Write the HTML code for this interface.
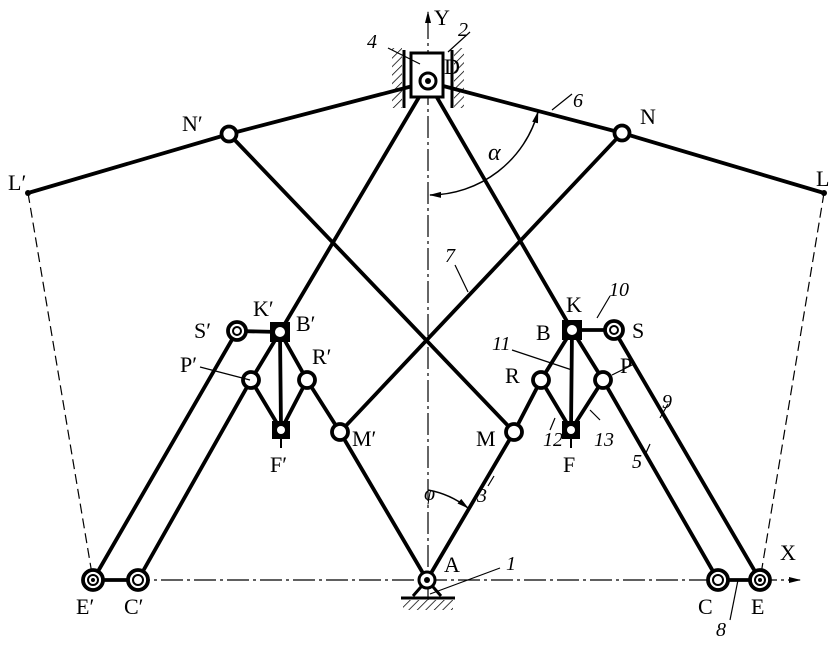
<!DOCTYPE html>
<html><head><meta charset="utf-8"><style>
html,body{margin:0;padding:0;background:#fff}
svg{display:block}
text{font-family:"Liberation Serif",serif;font-size:22px;fill:#000}
.i{font-style:italic;font-size:20px}
</style></head><body>
<svg width="840" height="650" viewBox="0 0 840 650" xmlns="http://www.w3.org/2000/svg">
<defs>
<marker id="ar" markerWidth="12" markerHeight="8" refX="11" refY="4" orient="auto-start-reverse" markerUnits="userSpaceOnUse"><path d="M0,1 L12,4 L0,7 Z" fill="#000"/></marker>
<pattern id="h" width="6" height="6" patternUnits="userSpaceOnUse" patternTransform="rotate(45)"><line x1="0" y1="0" x2="0" y2="6" stroke="#000" stroke-width="1.5"/></pattern>
</defs>
<line x1="428" y1="600" x2="428" y2="12" stroke="#000" stroke-width="1.2" stroke-dasharray="22,4,3,4" marker-end="url(#ar)"/>
<line x1="95" y1="580" x2="800" y2="580" stroke="#000" stroke-width="1.2" stroke-dasharray="22,4,3,4" marker-end="url(#ar)"/>
<line x1="28" y1="193" x2="93" y2="580" stroke="#000" stroke-width="1.2" stroke-dasharray="10,5"/>
<line x1="824" y1="193" x2="760" y2="580" stroke="#000" stroke-width="1.2" stroke-dasharray="10,5"/>
<g stroke="#000" stroke-width="3.8" fill="none" stroke-linecap="round">
<polyline points="28,193 229,134 428,82 622,133 824,193"/>
<line x1="428" y1="82" x2="280" y2="332"/>
<line x1="428" y1="82" x2="572" y2="330"/>
<line x1="229" y1="134" x2="514" y2="432"/>
<line x1="622" y1="133" x2="340" y2="432"/>
<polyline points="340,432 427,580 514,432"/>
<polyline points="340,432 307,380 280,332 251,380 281,430 307,380"/>
<line x1="280" y1="332" x2="281" y2="430"/>
<polyline points="514,432 541,380 572,330 603,380 571,430 541,380"/>
<line x1="572" y1="330" x2="571" y2="430"/>
<line x1="237" y1="331" x2="280" y2="332"/>
<line x1="572" y1="330" x2="614" y2="330"/>
<line x1="237" y1="331" x2="93" y2="580"/>
<line x1="251" y1="380" x2="138" y2="580"/>
<line x1="614" y1="330" x2="760" y2="580"/>
<line x1="603" y1="380" x2="718" y2="580"/>
<line x1="93" y1="580" x2="138" y2="580"/>
<line x1="718" y1="580" x2="760" y2="580"/>
</g>
<line x1="281" y1="430" x2="281" y2="448" stroke="#000" stroke-width="2"/>
<line x1="571" y1="430" x2="571" y2="448" stroke="#000" stroke-width="2"/>
<rect x="392" y="48" width="10" height="60" fill="url(#h)"/>
<rect x="454" y="48" width="10" height="60" fill="url(#h)"/>
<line x1="404" y1="50" x2="404" y2="108" stroke="#000" stroke-width="3"/>
<line x1="452" y1="50" x2="452" y2="108" stroke="#000" stroke-width="3"/>
<rect x="411" y="53" width="32" height="44" fill="#fff" stroke="#000" stroke-width="3"/>
<circle cx="428" cy="81" r="8" fill="#fff" stroke="#000" stroke-width="3"/>
<circle cx="428" cy="81" r="3" fill="#000"/>
<path d="M413,596 L427,580 L441,596" fill="none" stroke="#000" stroke-width="3"/>
<line x1="401" y1="598" x2="455" y2="598" stroke="#000" stroke-width="3"/>
<rect x="403" y="600" width="50" height="10" fill="url(#h)"/>
<circle cx="427" cy="580" r="8" fill="#fff" stroke="#000" stroke-width="3"/>
<circle cx="427" cy="580" r="3" fill="#000"/>
<g fill="#fff" stroke="#000" stroke-width="3.8">
<circle cx="229" cy="134" r="7.5"/><circle cx="622" cy="133" r="7.5"/>
<circle cx="237" cy="331" r="9"/><circle cx="614" cy="330" r="9"/>
<circle cx="251" cy="380" r="8"/><circle cx="307" cy="380" r="8"/>
<circle cx="541" cy="380" r="8"/><circle cx="603" cy="380" r="8"/>
<circle cx="340" cy="432" r="8"/><circle cx="514" cy="432" r="8"/>
<circle cx="93" cy="580" r="10"/><circle cx="138" cy="580" r="10"/>
<circle cx="718" cy="580" r="10"/><circle cx="760" cy="580" r="10"/>
</g>
<g fill="none" stroke="#000" stroke-width="2">
<circle cx="237" cy="331" r="4"/><circle cx="614" cy="330" r="4"/>
<circle cx="93" cy="580" r="5"/><circle cx="138" cy="580" r="5"/>
<circle cx="718" cy="580" r="5"/><circle cx="760" cy="580" r="5"/>
</g>
<circle cx="93" cy="580" r="2" fill="#000"/><circle cx="760" cy="580" r="2" fill="#000"/>
<g fill="#000"><rect x="270" y="322" width="20" height="20"/><rect x="562" y="320" width="20" height="20"/>
<rect x="272" y="421" width="18" height="18"/><rect x="562" y="421" width="18" height="18"/></g>
<g fill="#fff"><circle cx="280" cy="332" r="5"/><circle cx="572" cy="330" r="5"/>
<circle cx="281" cy="430" r="4"/><circle cx="571" cy="430" r="4"/></g>
<circle cx="28" cy="193" r="3" fill="#000"/><circle cx="824" cy="193" r="3" fill="#000"/>
<path d="M430,195 A113,113 0 0 0 538,112" fill="none" stroke="#000" stroke-width="1.5" marker-start="url(#ar)" marker-end="url(#ar)"/>
<path d="M428,490 A90,90 0 0 1 468,508" fill="none" stroke="#000" stroke-width="1.5" marker-end="url(#ar)"/>
<g stroke="#000" stroke-width="1.2">
<line x1="388" y1="48" x2="420" y2="64"/><line x1="448" y1="52" x2="470" y2="32"/>
<line x1="552" y1="110" x2="572" y2="94"/><line x1="455" y1="265" x2="468" y2="292"/>
<line x1="597" y1="318" x2="610" y2="296"/><line x1="512" y1="350" x2="572" y2="370"/>
<line x1="612" y1="375" x2="634" y2="364"/><line x1="555" y1="418" x2="550" y2="430"/>
<line x1="590" y1="410" x2="600" y2="420"/><line x1="200" y1="367" x2="250" y2="380"/>
<line x1="430" y1="594" x2="500" y2="568"/><line x1="738" y1="580" x2="730" y2="620"/>
<line x1="488" y1="486" x2="494" y2="476"/><line x1="645" y1="455" x2="650" y2="444"/>
<line x1="660" y1="418" x2="668" y2="404"/>
</g>
<text x="434" y="25">Y</text><text x="444" y="74">D</text>
<text class="i" x="367" y="48">4</text><text class="i" x="458" y="36">2</text>
<text x="182" y="131">N′</text><text x="640" y="124">N</text>
<text x="8" y="190">L′</text><text x="816" y="186">L</text>
<text class="i" x="573" y="107">6</text><text class="i" x="488" y="160" style="font-size:24px">α</text>
<text class="i" x="445" y="262">7</text>
<text x="566" y="312">K</text><text class="i" x="609" y="296">10</text>
<text x="536" y="340">B</text><text class="i" x="492" y="350">11</text>
<text x="505" y="383">R</text><text x="620" y="373">P</text>
<text x="632" y="338">S</text>
<text x="476" y="446">M</text><text x="352" y="446">M′</text>
<text class="i" x="543" y="446">12</text><text class="i" x="594" y="446">13</text>
<text x="563" y="472">F</text><text x="270" y="472">F′</text>
<text x="194" y="338">S′</text><text x="253" y="316">K′</text><text x="296" y="331">B′</text>
<text x="180" y="372">P′</text><text x="312" y="364">R′</text>
<text class="i" x="424" y="500">φ</text><text class="i" x="477" y="502">3</text>
<text class="i" x="632" y="468">5</text><text class="i" x="662" y="408">9</text>
<text x="444" y="572">A</text><text class="i" x="506" y="570">1</text>
<text x="780" y="560">X</text>
<text x="698" y="614">C</text><text x="751" y="614">E</text>
<text class="i" x="716" y="636">8</text>
<text x="76" y="614">E′</text><text x="124" y="614">C′</text>
</svg>
</body></html>
